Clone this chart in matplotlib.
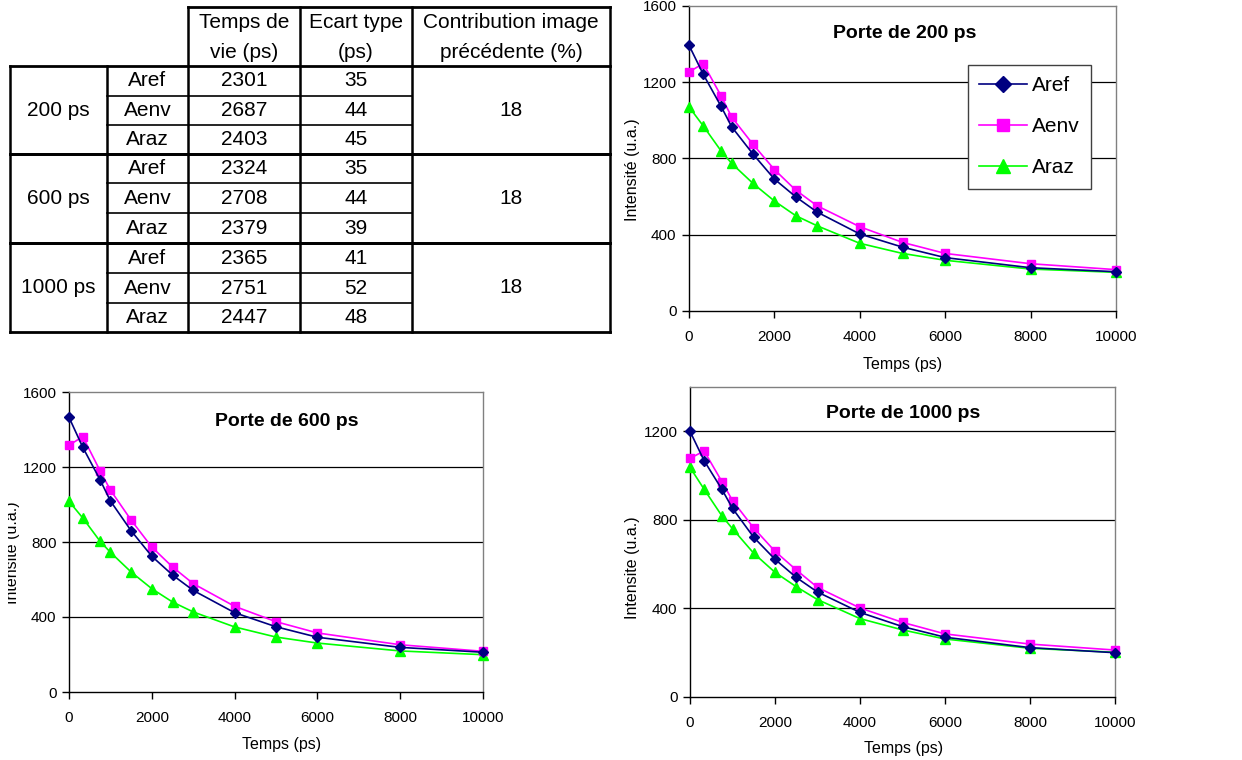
import matplotlib
matplotlib.use("Agg")
import matplotlib.pyplot as plt
from matplotlib.transforms import Bbox, TransformedBbox

plt.rcParams['font.family'] = ['Liberation Sans', 'DejaVu Sans']

# table data
portes = ["200 ps", "600 ps", "1000 ps"]
series = ["Aref", "Aenv", "Araz"]
temps_vie = [[2301, 2687, 2403], [2324, 2708, 2379], [2365, 2751, 2447]]
ecart = [[35, 44, 45], [35, 44, 39], [41, 52, 48]]
contribution = [18, 18, 18]

# decay curves
temps = [0, 333, 750, 1000, 1500, 2000, 2500, 3000, 4000, 5000, 6000, 8000, 10000]
p200_aref = [1394, 1242, 1074, 966, 823, 692, 599, 519, 404, 335, 280, 227, 206]
p200_aenv = [1254, 1298, 1129, 1017, 874, 742, 634, 552, 442, 360, 302, 248, 217]
p200_araz = [1071, 971, 840, 774, 669, 577, 500, 447, 355, 302, 266, 220, 203]
p600_aref = [1465, 1305, 1132, 1019, 860, 724, 624, 542, 423, 348, 292, 238, 212]
p600_aenv = [1316, 1362, 1180, 1077, 917, 773, 667, 578, 457, 375, 315, 252, 217]
p600_araz = [1017, 928, 804, 745, 640, 551, 480, 427, 347, 293, 261, 219, 199]
p1000_aref = [1200, 1067, 938, 852, 721, 622, 540, 474, 382, 318, 270, 223, 200]
p1000_aenv = [1078, 1111, 973, 887, 763, 658, 574, 495, 402, 337, 285, 239, 212]
p1000_araz = [1037, 938, 818, 760, 649, 563, 498, 440, 354, 303, 262, 220, 202]

W, H = 1242, 760
fig = plt.figure(figsize=(W / 100, H / 100), dpi=100)

# overlay in pixel coordinates for the table
ov = fig.add_axes([0, 0, 1, 1])
ov.set_xlim(0, W)
ov.set_ylim(H, 0)
ov.axis("off")

cols = [10, 107, 188, 300, 412, 610]
rows = [66, 96, 125, 154, 183, 213, 243, 273, 303, 332]
fs = 15
# header
ov.plot([cols[2], cols[5]], [7, 7], color="k", lw=2.0)
for x in cols[2:]:
    ov.plot([x, x], [7, rows[-1]], color="k", lw=1.8)
for x in cols[:2]:
    ov.plot([x, x], [rows[0], rows[-1]], color="k", lw=1.8)
heads = [("Temps de", "vie (ps)"), ("Ecart type", "(ps)"), ("Contribution image", "précédente (%)")]
for i, (l1, l2) in enumerate(heads):
    cx = (cols[2 + i] + cols[3 + i]) / 2
    ov.text(cx, 23, l1, ha="center", va="center", fontsize=fs)
    ov.text(cx, 52, l2, ha="center", va="center", fontsize=fs)
for g in range(3):
    top = rows[3 * g]
    bot = rows[3 * g + 3]
    ov.plot([cols[0], cols[5]], [top, top], color="k", lw=2.0)
    ov.plot([cols[0], cols[5]], [bot, bot], color="k", lw=2.0)
    for k in (1, 2):
        yy = rows[3 * g + k]
        ov.plot([cols[1], cols[4]], [yy, yy], color="k", lw=1.2)
    ov.text((cols[0] + cols[1]) / 2, (top + bot) / 2, portes[g], ha="center", va="center", fontsize=fs)
    ov.text((cols[4] + cols[5]) / 2, (top + bot) / 2, str(contribution[g]), ha="center", va="center", fontsize=fs)
    for k in range(3):
        cy = (rows[3 * g + k] + rows[3 * g + k + 1]) / 2
        ov.text((cols[1] + cols[2]) / 2, cy, series[k], ha="center", va="center", fontsize=fs)
        ov.text((cols[2] + cols[3]) / 2, cy, str(temps_vie[g][k]), ha="center", va="center", fontsize=fs)
        ov.text((cols[3] + cols[4]) / 2, cy, str(ecart[g][k]), ha="center", va="center", fontsize=fs)


def px_axes(l, r, t, b):
    return fig.add_axes([l / W, 1 - b / H, (r - l) / W, (b - t) / H])


def chart(ax, aref, aenv, araz, ymax, title, tpos, ylab, ypos, xpos):
    ax.plot(temps, aref, color="#000080", marker="D", ms=5.5, lw=1.2, label="Aref", clip_on=False, zorder=5)
    ax.plot(temps, aenv, color="#FF00FF", marker="s", ms=6, lw=1.2, label="Aenv", clip_on=False, zorder=4)
    ax.plot(temps, araz, color="#00FF00", marker="^", ms=7, lw=1.2, label="Araz", clip_on=False, zorder=3)
    ax.set_xlim(0, 10000)
    ax.set_ylim(0, ymax)
    ax.set_xticks(range(0, 10001, 2000))
    ax.set_yticks(range(0, ymax + 1, 400))
    for yv in range(400, ymax, 400):
        ax.axhline(yv, color="k", lw=0.9, zorder=1)
    ax.spines["left"].set_color("k")
    ax.spines["bottom"].set_color("k")
    ax.spines["top"].set_color("#808080")
    ax.spines["right"].set_color("#808080")
    for s in ax.spines.values():
        s.set_linewidth(1.0)
    ax.tick_params(axis="both", direction="out", length=5, width=1, labelsize=11)
    ax.tick_params(axis="x", pad=9)
    ax.tick_params(axis="y", pad=4)
    ax.text(tpos[0] / W, 1 - tpos[1] / H, title, transform=fig.transFigure,
            ha="center", va="center", fontsize=14, fontweight="bold")
    fig.text(xpos[0] / W, 1 - xpos[1] / H, "Temps (ps)", ha="center", va="center", fontsize=11.5)
    lbl = fig.text(ypos[0] / W, 1 - ypos[1] / H, ylab, rotation=90, ha="center", va="center", fontsize=11.5)
    return lbl


ax1 = px_axes(689, 1116, 6, 311)
chart(ax1, p200_aref, p200_aenv, p200_araz, 1600, "Porte de 200 ps", (905, 33),
      "Intensité (u.a.)", (633, 170), (903, 365))
leg = ax1.legend(loc="upper left", bbox_to_anchor=(968 / W, 1 - 65 / H), bbox_transform=fig.transFigure,
                 borderaxespad=0, fontsize=15, handlelength=2.3, markerscale=1.5, labelspacing=1.05,
                 fancybox=False, framealpha=1, edgecolor="#404040", handletextpad=0.2, borderpad=0.55)
leg.get_frame().set_linewidth(1.0)

ax2 = px_axes(69, 483, 392, 692)
lbl2 = chart(ax2, p600_aref, p600_aenv, p600_araz, 1600, "Porte de 600 ps", (287, 421),
             "Intensite (u.a.)", (13, 553), (282, 744))
lbl2.set_clip_on(True)
lbl2.set_clip_box(TransformedBbox(Bbox.from_bounds(8 / W, 0, 1, 1), fig.transFigure))

ax3 = px_axes(690, 1115, 387, 697)
chart(ax3, p1000_aref, p1000_aenv, p1000_araz, 1400, "Porte de 1000 ps", (903, 413),
      "Intensite (u.a.)", (633, 568), (904, 748))

fig.savefig("out.png", dpi=100)
